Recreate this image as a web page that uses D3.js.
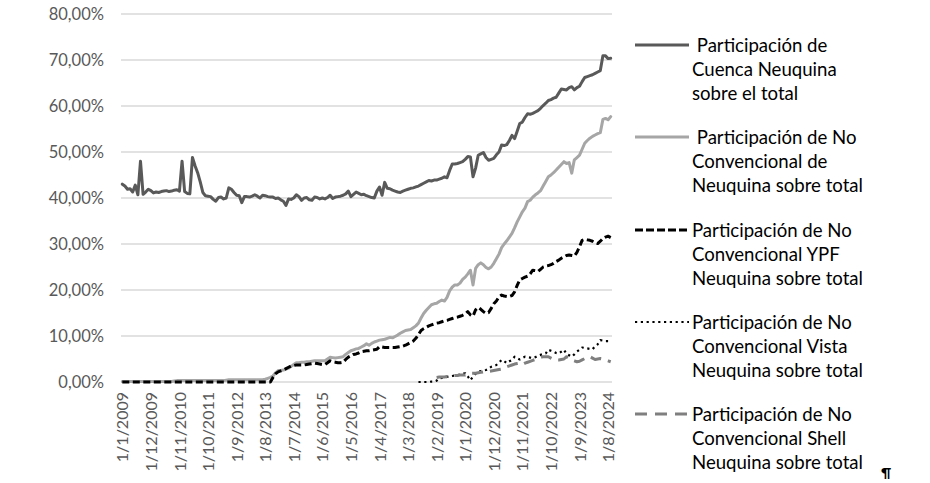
<!DOCTYPE html>
<html><head><meta charset="utf-8">
<script src="https://cdn.jsdelivr.net/npm/d3@7"></script>
<style>html,body{margin:0;padding:0;background:#fff}svg{display:block}</style>
</head><body><svg id="c" width="930" height="483"></svg>
<script>
// ---- DATA ----
const startYear = 2009, monthCount = 189; // Jan 2009 .. Sep 2024 (monthly)
const categories = [];
for (let k = 0; k < monthCount; k++) {
  const y = startYear + Math.floor(k / 12), m = (k % 12) + 1;
  categories.push("1/" + m + "/" + y);
}
const tickLabels = ["1/1/2009","1/12/2009","1/11/2010","1/10/2011","1/9/2012","1/8/2013","1/7/2014","1/6/2015","1/5/2016","1/4/2017","1/3/2018","1/2/2019","1/1/2020","1/12/2020","1/11/2021","1/10/2022","1/9/2023","1/8/2024"];
const yTicks = [0,10,20,30,40,50,60,70,80];

const cuencaNeuquina = [
43.0,42.6,41.9,42.0,41.3,42.8,40.7,48.0,40.8,41.3,41.9,41.6,41.1,41.3,41.2,41.4,41.5,41.6,41.4,41.5,
41.7,41.8,41.5,48.0,41.4,41.0,40.9,48.8,47.0,45.5,43.5,41.2,40.5,40.4,40.3,39.7,39.3,40.1,40.2,39.8,
40.0,42.2,41.9,41.2,40.6,40.5,39.0,40.3,40.3,40.2,40.4,40.7,40.4,40.0,40.6,40.5,40.3,40.2,40.2,39.9,
40.0,39.6,39.3,38.4,39.8,39.7,40.0,40.7,40.3,39.5,40.0,40.1,39.6,39.5,40.2,40.1,39.8,40.0,39.8,40.1,
40.6,39.9,40.2,40.3,40.4,40.6,40.9,41.5,40.3,40.8,41.3,41.0,40.7,40.8,40.5,40.3,40.1,40.0,41.5,42.4,
40.6,43.4,42.1,42.0,41.7,41.5,41.3,41.2,41.5,41.7,41.9,42.1,42.2,42.4,42.6,42.9,43.2,43.5,43.8,43.7,
43.9,43.9,44.1,44.3,44.6,44.4,46.0,47.4,47.4,47.5,47.7,47.9,48.4,49.0,48.9,44.6,46.5,49.3,49.6,49.9,
48.8,48.2,48.4,48.6,49.4,50.0,51.5,51.4,51.6,52.5,53.6,52.9,54.5,56.2,56.5,57.5,58.3,58.2,58.4,58.7,
59.0,59.5,60.1,60.6,61.2,61.4,61.7,61.9,62.8,63.7,63.6,63.5,64.0,64.2,63.5,64.0,64.3,65.3,66.2,66.4,
66.6,66.8,67.1,67.4,67.7,70.9,70.9,70.3,70.4];

const noConvNeuquina = [
0.1,0.1,0.1,0.1,0.1,0.1,0.1,0.1,0.1,0.1,0.1,0.1,0.1,0.1,0.1,0.1,0.1,0.1,0.1,0.1,
0.2,0.3,0.3,0.3,0.3,0.3,0.3,0.3,0.3,0.3,0.3,0.3,0.3,0.3,0.3,0.3,0.3,0.3,0.3,0.3,
0.4,0.5,0.5,0.5,0.5,0.5,0.5,0.5,0.5,0.5,0.5,0.5,0.5,0.5,0.5,0.6,0.8,1.0,1.3,2.0,
2.5,2.5,2.6,2.8,3.0,3.4,3.8,4.2,4.2,4.3,4.3,4.4,4.4,4.5,4.6,4.6,4.6,4.6,4.6,5.0,
5.4,5.3,5.2,5.3,5.4,5.5,6.0,6.4,6.8,7.0,7.2,7.3,7.6,7.9,8.3,8.0,8.4,8.7,8.9,9.1,
9.2,9.3,9.5,9.7,9.6,9.9,10.2,10.6,10.9,11.2,11.3,11.4,11.8,12.2,12.8,13.9,14.9,15.6,16.2,16.8,
17.0,17.1,17.5,17.8,17.6,18.4,19.8,20.6,21.1,21.1,21.5,22.3,22.8,23.5,24.3,21.1,24.7,25.5,25.9,25.5,
24.9,24.6,25.0,25.8,26.8,27.8,29.2,30.0,30.7,31.5,32.3,33.5,34.8,35.9,37.0,37.8,39.2,39.5,40.2,40.7,
41.1,41.6,42.6,43.6,44.6,45.0,45.5,46.1,46.7,47.3,47.9,47.5,47.7,45.4,48.3,48.8,49.3,50.6,51.9,52.5,
53.0,53.4,53.7,54.0,54.2,57.1,57.3,57.0,57.7];

const noConvYPF = [
0,0,0,0,0,0,0,0,0,0,0,0,0,0,0,0,0,0,0,0,
0,0,0,0,0,0,0,0,0,0,0,0,0,0,0,0,0,0,0,0,
0,0,0,0,0,0,0,0,0,0,0,0,0,0,0,0,0,0,1.0,1.8,
2.2,2.4,2.6,2.9,3.2,3.5,3.6,3.7,3.7,3.7,3.7,3.8,3.9,4.0,4.1,4.0,3.9,3.8,3.8,4.2,
4.6,4.4,4.3,4.2,4.2,4.3,4.9,5.4,5.7,6.0,6.1,6.3,6.6,6.7,6.8,6.8,6.9,7.0,7.1,7.7,
7.6,7.5,7.5,7.5,7.5,7.5,7.6,7.7,7.8,8.0,8.3,8.6,8.9,9.5,10.3,11.2,11.6,11.9,12.2,12.4,
12.6,12.8,12.9,13.1,13.3,13.4,13.6,13.8,14.0,14.1,14.3,14.5,14.8,15.3,14.6,14.3,15.7,16.2,15.8,15.3,
14.9,15.1,16.0,17.0,17.6,18.5,18.9,18.7,18.6,18.6,18.8,19.6,21.0,22.2,22.5,22.8,23.0,23.5,24.3,24.2,
24.0,24.5,25.0,25.2,25.3,25.5,25.8,26.2,26.5,26.9,27.2,27.5,27.6,27.5,27.4,28.2,29.4,30.8,31.0,30.9,
30.8,30.6,30.3,30.1,30.6,31.2,31.5,31.7,31.4];

// Vista starts mid-2018, Shell early 2019
const vistaStart = 114;
const noConvVista = [
0.0,0.0,0.0,0.0,0.0,0.1,0.1,0.3,0.8,0.9,1.0,1.1,1.2,1.3,1.4,1.5,1.6,1.8,1.9,1.2,
0.4,1.2,1.8,2.2,2.4,2.5,2.6,2.9,3.3,3.5,3.7,4.2,4.8,4.5,4.1,4.5,4.8,5.5,5.2,4.9,
5.2,5.5,5.4,5.3,5.2,5.4,5.7,5.9,6.1,6.2,7.0,6.8,6.6,6.3,6.2,6.6,7.0,6.1,5.8,5.5,
6.0,6.6,7.0,7.5,7.4,7.3,7.2,7.1,7.8,8.2,9.1,9.0,8.9,8.9,8.9];
const shellStart = 121;
const noConvShell = [
1.0,1.1,1.1,1.1,1.2,1.2,1.3,1.4,1.4,1.5,1.5,1.5,1.7,1.9,1.9,1.9,2.0,2.1,2.2,2.2,
2.3,2.4,2.5,2.6,2.7,2.8,3.0,3.3,3.5,3.7,3.9,4.0,4.1,3.8,4.1,4.3,4.5,4.7,4.9,5.1,
5.3,5.5,5.5,5.5,5.2,4.9,4.8,4.8,4.9,5.0,5.5,5.1,4.8,4.6,4.4,4.5,4.8,5.1,5.3,5.5,
5.2,4.9,5.0,5.1,5.0,4.8,4.6,4.4];

const legendLabels = [
  ["\u00a0Participación de","Cuenca Neuquina","sobre el total"],
  ["\u00a0Participación de No","Convencional de","Neuquina sobre total"],
  ["Participación de No","Convencional YPF","Neuquina sobre total"],
  ["Participación de No","Convencional Vista","Neuquina sobre total"],
  ["Participación de No","Convencional Shell","Neuquina sobre total"]
];

// ---- DRAW ----
const FONT = "Lato, 'Open Sans', sans-serif";
const svg = d3.select("#c");
const x = d3.scalePoint().domain(categories).range([121, 612]).padding(0.5);
const y = d3.scaleLinear().domain([0, 80]).range([382, 14]);

const fmt = v => v.toFixed(2).replace(".", ",") + "%";

// gridlines
svg.append("g").selectAll("line").data(yTicks).join("line")
  .attr("x1", 121).attr("x2", 612)
  .attr("y1", d => y(d)).attr("y2", d => y(d))
  .attr("stroke", "#d9d9d9").attr("stroke-width", 1.5);

// y axis labels
const yAxis = d3.axisLeft(y).tickValues(yTicks).tickFormat(fmt).tickSize(0).tickPadding(0);
const gy = svg.append("g").attr("transform", "translate(104,0)").call(yAxis);
gy.select(".domain").remove();
gy.selectAll("text").attr("font-family", FONT).attr("font-size", 16.5).attr("fill", "#595959");

// x axis labels (rotated)
const xAxis = d3.axisBottom(x).tickValues(tickLabels).tickSize(0).tickPadding(0);
const gx = svg.append("g").attr("transform", "translate(0,392)").call(xAxis);
gx.select(".domain").remove();
gx.selectAll("text")
  .attr("font-family", FONT).attr("font-size", 16).attr("fill", "#595959")
  .attr("transform", "rotate(-90)").attr("text-anchor", "end")
  .attr("x", 0).attr("y", 0).attr("dy", "0.35em");

// series
const series = [
  {vals: cuencaNeuquina, start: 0, color: "#595959", width: 3, dash: null, cap: "round"},
  {vals: noConvNeuquina, start: 0, color: "#a6a6a6", width: 3, dash: null, cap: "round"},
  {vals: noConvYPF, start: 0, color: "#000000", width: 3, dash: "7,3.5", cap: "butt"},
  {vals: noConvVista, start: vistaStart, color: "#000000", width: 2.2, dash: "2.2,3.6", cap: "butt"},
  {vals: noConvShell, start: shellStart, color: "#7f7f7f", width: 3, dash: "11,7", cap: "butt"}
];
const line = d3.line().x(d => x(categories[d.i])).y(d => y(d.v));
series.forEach(s => {
  const pts = s.vals.map((v, k) => ({i: s.start + k, v}));
  svg.append("path").datum(pts).attr("d", line)
    .attr("fill", "none").attr("stroke", s.color).attr("stroke-width", s.width)
    .attr("stroke-linejoin", "round").attr("stroke-linecap", s.cap)
    .attr("stroke-dasharray", s.dash);
});

// legend
const legendY = [45, 137, 230, 322, 414];
const lg = svg.append("g");
series.forEach((s, k) => {
  const yy = legendY[k];
  lg.append("line").attr("x1", 635).attr("x2", 689).attr("y1", yy).attr("y2", yy)
    .attr("stroke", s.color).attr("stroke-width", s.width)
    .attr("stroke-dasharray", k === 2 ? "8,3" : k === 3 ? "2.2,3.6" : k === 4 ? "12,8" : null);
  legendLabels[k].forEach((t, j) => {
    lg.append("text").attr("x", 692).attr("y", yy + j * 24.3).attr("dy", "0.35em")
      .attr("font-family", FONT).attr("font-size", 18.6).attr("fill", "#000")
      .text(t);
  });
});
svg.append("text").attr("x", 881).attr("y", 473).attr("dy", "0.35em")
  .attr("font-family", FONT).attr("font-size", 14).attr("font-weight", "bold").text("¶");
</script></body></html>
